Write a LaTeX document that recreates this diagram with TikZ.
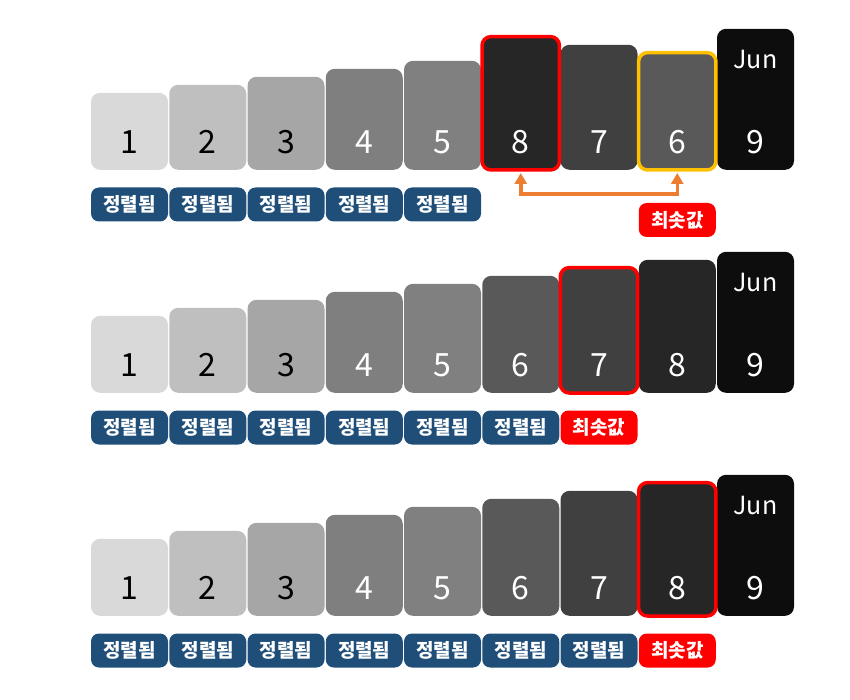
\documentclass[tikz,border=0pt]{standalone}
\usepackage{fontspec}
\setmainfont{Noto Sans CJK KR}
\usetikzlibrary{arrows.meta}
\definecolor{g1}{HTML}{D9D9D9}
\definecolor{g2}{HTML}{BFBFBF}
\definecolor{g3}{HTML}{A6A6A6}
\definecolor{g4}{HTML}{7F7F7F}
\definecolor{g5}{HTML}{808080}
\definecolor{g6}{HTML}{595959}
\definecolor{g7}{HTML}{404040}
\definecolor{g8}{HTML}{262626}
\definecolor{g9}{HTML}{0D0D0D}
\definecolor{navy}{HTML}{1F4E79}
\definecolor{pick}{HTML}{FF0000}
\definecolor{gold}{HTML}{FFC000}
\definecolor{orng}{HTML}{ED7D31}

\tikzset{
  card/.style={rounded corners=9pt,minimum width=77pt,inner sep=0pt,anchor=south},
  num/.style={font=\fontsize{32}{32}\selectfont,text=white},
  jun/.style={font=\fontsize{25}{25}\selectfont,text=white},
  tag/.style={rounded corners=8pt,minimum width=77pt,minimum height=34pt,
    inner sep=0pt,text=white,font=\bfseries\fontsize{19}{19}\selectfont},
  ring/.style={line width=3.5pt,rounded corners=9pt},
}

\begin{document}
\begin{tikzpicture}[x=1pt,y=-1pt,>={Triangle[width=12pt,length=11pt]}]
  \useasboundingbox (0,0) rectangle (850,700);

  % row 1: 8 and 6 change places
  \foreach \v [count=\i] in {1,2,3,4,5,8,7,6,9} {
    \node[card,fill=g\v,minimum height={69+8*\v}] (a\i) at ({51.25+78.25*\i},170) {};
    \node[num] (an\i) at ([yshift=28pt]a\i.south) {\ifnum\v<4\color{black}\fi\v};
  }
  \node[jun] (aj) at ([yshift=-31pt]a9.north) {Jun};
  \draw[pick,ring] (a6.south west) rectangle (a6.north east);
  \draw[gold,ring] (a8.south west) rectangle (a8.north east);
  \foreach \i in {1,...,5}
    \node[tag,fill=navy] (at\i) at ([yshift=-34.5pt]a\i.south) {정렬됨};
  \node[tag,fill=pick] (amin) at ([yshift=-50pt]a8.south) {최솟값};
  \draw[orng,line width=3.5pt,<->,shorten <=3pt,shorten >=3pt]
    (a6.south) -- ++(0,24) -| (a8.south);

  % row 2
  \foreach \v in {1,...,9} {
    \node[card,fill=g\v,minimum height={69+8*\v}] (b\v) at ({51.25+78.25*\v},393) {};
    \node[num] (bn\v) at ([yshift=28pt]b\v.south) {\ifnum\v<4\color{black}\fi\v};
  }
  \node[jun] (bj) at ([yshift=-31pt]b9.north) {Jun};
  \draw[pick,ring] (b7.south west) rectangle (b7.north east);
  \foreach \i in {1,...,6}
    \node[tag,fill=navy] (bt\i) at ([yshift=-34.5pt]b\i.south) {정렬됨};
  \node[tag,fill=pick] (bmin) at ([yshift=-34.5pt]b7.south) {최솟값};

  % row 3
  \foreach \v in {1,...,9} {
    \node[card,fill=g\v,minimum height={69+8*\v}] (c\v) at ({51.25+78.25*\v},616) {};
    \node[num] (cn\v) at ([yshift=28pt]c\v.south) {\ifnum\v<4\color{black}\fi\v};
  }
  \node[jun] (cj) at ([yshift=-31pt]c9.north) {Jun};
  \draw[pick,ring] (c8.south west) rectangle (c8.north east);
  \foreach \i in {1,...,7}
    \node[tag,fill=navy] (ct\i) at ([yshift=-34.5pt]c\i.south) {정렬됨};
  \node[tag,fill=pick] (cmin) at ([yshift=-34.5pt]c8.south) {최솟값};
\end{tikzpicture}
\end{document}
